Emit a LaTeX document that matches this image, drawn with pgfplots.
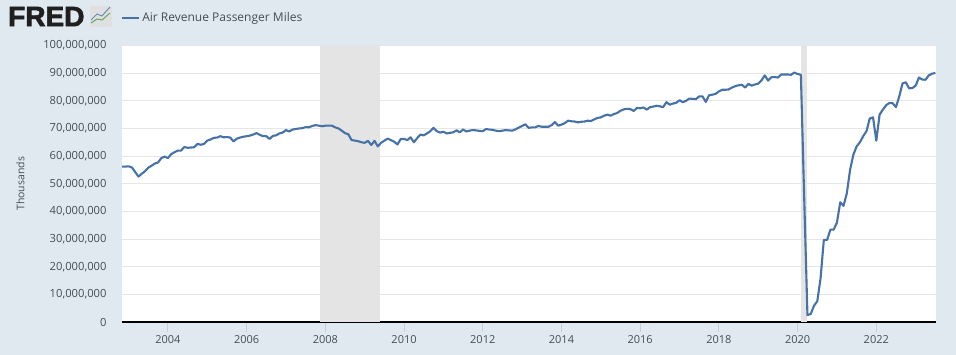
\documentclass[border=0pt]{standalone}
\usepackage{fontspec}
\setmainfont{Open Sans}
\newfontfamily\logofont[FakeBold=2.5]{Liberation Sans Bold}
\usepackage{pgfplots}
\usepackage{pgfplotstable}
\pgfplotsset{compat=1.18}
\definecolor{bgc}{HTML}{E1E9F0}
\definecolor{linec}{HTML}{4572A7}
\definecolor{gridc}{HTML}{E6E6E6}
\definecolor{shadec}{HTML}{E4E4E4}
\definecolor{textc}{HTML}{444E58}
\definecolor{tickc}{HTML}{C0D0E0}
\pgfplotstableread{
n v
0 56.2
1 56.2
2 56.3
3 55.9
4 54.3
5 52.6
6 53.6
7 54.5
8 55.8
9 56.5
10 57.3
11 57.7
12 59.3
13 59.8
14 59.3
15 60.7
16 61.4
17 62
18 62
19 63.3
20 63
21 63.1
22 63.2
23 64.4
24 64.1
25 64.4
26 65.6
27 66
28 66.6
29 66.7
30 67.2
31 66.8
32 66.9
33 66.7
34 65.3
35 66.3
36 66.7
37 67
38 67.2
39 67.4
40 67.8
41 68.3
42 67.7
43 67.2
44 67.2
45 66.2
46 67.3
47 67.5
48 68.2
49 68.5
50 69.4
51 68.9
52 69.6
53 69.8
54 70
55 70.1
56 70.5
57 70.4
58 70.9
59 71.2
60 71
61 70.8
62 71
63 71
64 71
65 70.4
66 70
67 69.2
68 68.3
69 67.9
70 65.8
71 65.6
72 65.4
73 65
74 64.8
75 65.5
76 64
77 65.5
78 63.5
79 64.8
80 65.6
81 66.3
82 65.8
83 65.2
84 64.2
85 66.2
86 66.2
87 65.8
88 66.8
89 65
90 66.5
91 67.8
92 67.5
93 68.2
94 69
95 70.2
96 69
97 68.5
98 68.8
99 68.2
100 68.4
101 68.6
102 69.3
103 68.6
104 69.6
105 68.9
106 69.2
107 69.4
108 69.3
109 69.1
110 69
111 69.8
112 69.6
113 69.5
114 69.2
115 69
116 69.2
117 69.4
118 69.3
119 69.2
120 69.7
121 70.3
122 70.9
123 71.5
124 70.2
125 70.4
126 70.4
127 70.9
128 70.6
129 70.6
130 70.6
131 71.2
132 72.3
133 71
134 71.4
135 71.9
136 72.8
137 72.6
138 72.5
139 72.2
140 72.4
141 72.5
142 72.8
143 72.7
144 73.3
145 73.8
146 74
147 74.6
148 75
149 74.6
150 75.2
151 75.6
152 76.4
153 76.9
154 77.1
155 77
156 76.3
157 77.4
158 77.3
159 77.6
160 76.8
161 77.7
162 77.9
163 78.2
164 78
165 77.7
166 79.5
167 78.6
168 79
169 79.3
170 80.2
171 79.5
172 80
173 80.8
174 80.7
175 80.6
176 81.6
177 81.6
178 79.6
179 82
180 82.2
181 82.5
182 83.4
183 84
184 84
185 84.1
186 84.8
187 85.3
188 85.6
189 85.8
190 84.8
191 86.1
192 85.5
193 85.9
194 86.2
195 87.4
196 89.2
197 87.3
198 88.5
199 88.6
200 88.4
201 89.5
202 89.5
203 89.5
204 89.4
205 90.2
206 89.7
207 89.4
208 45.4
209 2.5
210 2.9
211 5.9
212 7.5
213 15.8
214 29.7
215 29.7
216 33.4
217 33.4
218 36
219 43.3
220 42
221 46.5
222 55
223 60.5
224 63.5
225 65
226 67.2
227 69
228 73.6
229 74
230 65.6
231 75
232 76.8
233 78.4
234 79.2
235 79.1
236 77.7
237 81.6
238 86.3
239 86.7
240 84.5
241 84.6
242 85.5
243 88.4
244 87.7
245 87.6
246 89.2
247 89.8
248 90.1
}\airdata
\pgfplotstableread{
n v
60.5 100
78.7 100
}\recessiona
\pgfplotstableread{
n v
207 100
209 100
}\recessionb
\begin{document}
\begin{tikzpicture}
\path[use as bounding box] (0pt,0pt) rectangle (956pt,355pt);
\fill[bgc] (0pt,0pt) rectangle (956pt,355pt);
\begin{axis}[
  at={(122pt,33pt)}, anchor=south west,
  scale only axis, width=814pt, height=276.5pt,
  xmin=0, xmax=248.2, ymin=0, ymax=100,
  axis background/.style={fill=white},
  axis x line*=bottom,
  axis y line*=left,
  y axis line style={draw=none},
  x axis line style={draw=black,line width=1.8pt},
  xtick={14,38,62,86,110,134,158,182,206,230},
  xticklabels={2004,2006,2008,2010,2012,2014,2016,2018,2020,2022},
  ytick={0,10,20,30,40,50,60,70,80,90,100},
  yticklabels={0,{10,000,000},{20,000,000},{30,000,000},{40,000,000},{50,000,000},{60,000,000},{70,000,000},{80,000,000},{90,000,000},{100,000,000}},
  ymajorgrids,
  grid style={draw=gridc,line width=1pt},
  tick align=outside,
  major tick length=10pt,
  x tick style={draw=tickc,line width=1pt},
  y tick style={draw=none},
  x tick label style={font=\fontsize{11}{12}\selectfont,text=textc},
  y tick label style={font=\fontsize{11.2}{12}\selectfont,text=textc,xshift=-2pt},
  ylabel={Thousands},
  ylabel shift=12pt,
  ylabel style={font=\fontsize{10.5}{12}\selectfont,text=textc},
  legend style={at={(0,1)},anchor=south west,draw=none,fill=none,yshift=18pt,xshift=-4pt,
    font=\fontsize{12}{14}\selectfont,text=textc,
    nodes={inner xsep=2pt}},
  legend cell align=left,
  legend image post style={line width=2pt},
]
\addlegendimage{linec,line width=2pt}
\addlegendentry{Air Revenue Passenger Miles}
\addplot[ybar interval,fill=shadec,draw=none,forget plot] table[x=n,y=v] {\recessiona};
\addplot[ybar interval,fill=shadec,draw=none,forget plot] table[x=n,y=v] {\recessionb};
\addplot[linec,line width=2.1pt,line join=round,forget plot] table[x=n,y=v] {\airdata};
\end{axis}
\node[anchor=west,font=\fontsize{28}{30}\selectfont\logofont,text=black!88,inner sep=0pt] at (8pt,338.5pt) {FRED};
\fill[rounded corners=1.5pt,black!12] (90pt,328pt) rectangle (112pt,349pt);
\draw[green!45!black!60,line width=1pt] (91pt,332pt) -- (97pt,336pt) -- (102pt,335pt) -- (110pt,342pt);
\draw[linec!80,line width=1pt] (91pt,335pt) -- (97pt,341pt) -- (102pt,339pt) -- (110pt,348pt);
\end{tikzpicture}
\end{document}
